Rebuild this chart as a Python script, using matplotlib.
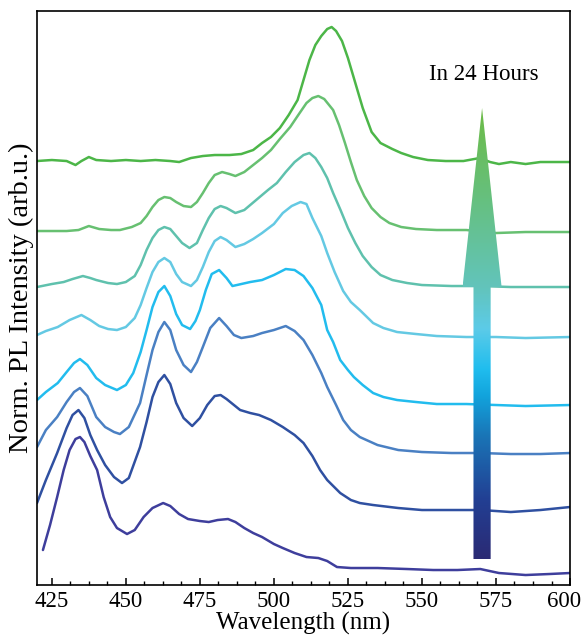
# PL spectra stacked over 24 hours, with gradient "time" arrow
import matplotlib.pyplot as plt
import numpy as np
from matplotlib.colors import LinearSegmentedColormap
from matplotlib.patches import Polygon
from matplotlib.ticker import MultipleLocator, AutoMinorLocator, FuncFormatter

plt.rcParams['font.family'] = ['Liberation Serif', 'DejaVu Serif']

# ---- data (offset, normalised PL intensity) ----
wl_0 = [422, 424.4, 426.8, 429, 431, 433, 434.5, 436, 438, 440.3, 442.5, 444.7, 447, 450.4,
        453, 456, 459, 462.6, 465, 468, 471, 475, 478, 481, 484.5, 487, 490, 493, 496, 500,
        503, 507, 511, 515, 518, 521.3, 526, 535, 545, 553.8, 562, 569.7, 576, 585, 593, 600]
pl_0 = [0.35, 0.60, 0.88, 1.15, 1.35, 1.46, 1.48, 1.43, 1.29, 1.15, 0.88, 0.68, 0.57, 0.51,
        0.55, 0.68, 0.77, 0.82, 0.79, 0.71, 0.66, 0.64, 0.63, 0.65, 0.66, 0.63, 0.57, 0.52, 0.48, 0.41,
        0.37, 0.32, 0.28, 0.27, 0.24, 0.18, 0.17, 0.17, 0.16, 0.15, 0.15, 0.16, 0.12, 0.10, 0.11, 0.12]

wl_1 = [420, 423, 426.8, 430, 432, 434, 436, 438, 440.3, 443, 446, 448.7, 451, 454.8, 457, 459,
        461, 463, 465, 467, 469.5, 472.4, 475, 477.5, 480, 482, 484, 488.6, 492, 495, 499, 503,
        507, 510, 513, 515.6, 518, 522.4, 526, 529, 533.5, 542, 550, 560, 570, 580, 590, 600]
pl_1 = [0.82, 1.05, 1.32, 1.57, 1.70, 1.75, 1.67, 1.50, 1.35, 1.20, 1.08, 1.02, 1.07, 1.38, 1.63, 1.88,
        2.03, 2.10, 2.01, 1.82, 1.67, 1.59, 1.67, 1.80, 1.89, 1.90, 1.86, 1.75, 1.72, 1.70, 1.65, 1.58,
        1.50, 1.42, 1.29, 1.15, 1.05, 0.92, 0.85, 0.82, 0.80, 0.77, 0.75, 0.75, 0.75, 0.73, 0.75, 0.78]

wl_2 = [420, 423, 426.8, 430, 432.5, 434.5, 437, 440, 443, 446, 448, 451, 454.8, 457, 459, 461,
        463, 465, 467, 469.5, 472, 474, 476, 478.5, 481.5, 484, 486.5, 489, 493, 496, 500, 504,
        507, 510, 513, 516, 518, 521, 523.4, 526, 529, 535, 542, 550, 560, 570, 580, 590, 600]
pl_2 = [1.38, 1.55, 1.68, 1.83, 1.93, 1.97, 1.89, 1.68, 1.58, 1.53, 1.51, 1.58, 1.82, 2.10, 2.35, 2.53,
        2.63, 2.55, 2.35, 2.20, 2.13, 2.23, 2.38, 2.57, 2.67, 2.59, 2.50, 2.47, 2.49, 2.52, 2.55, 2.59,
        2.54, 2.45, 2.30, 2.12, 1.98, 1.80, 1.65, 1.55, 1.48, 1.40, 1.35, 1.33, 1.32, 1.32, 1.31, 1.31, 1.32]

wl_3 = [420, 423, 427, 430, 432.5, 434.5, 437, 440, 443, 447, 450, 452.5, 455, 457, 459, 461,
        463, 465, 467, 469, 471.7, 473.5, 475, 477, 479, 481.5, 484, 486, 489, 492, 496, 500,
        504, 507, 510, 513, 516, 518, 520, 522.4, 525, 527, 530, 533.5, 537, 541.6, 548, 555,
        565, 575, 585, 600]
pl_3 = [1.85, 1.93, 2.02, 2.13, 2.22, 2.26, 2.20, 2.07, 2.00, 1.95, 2.00, 2.12, 2.33, 2.55, 2.78, 2.93,
        2.99, 2.89, 2.71, 2.60, 2.56, 2.64, 2.75, 2.95, 3.11, 3.15, 3.07, 2.99, 3.01, 3.03, 3.05, 3.10,
        3.16, 3.15, 3.09, 2.97, 2.80, 2.55, 2.43, 2.25, 2.15, 2.08, 2.00, 1.92, 1.88, 1.85, 1.83, 1.81,
        1.81, 1.80, 1.79, 1.80]

wl_4 = [420, 423, 427, 431, 435, 438, 441, 444, 447, 450, 453, 455, 457, 459, 461, 463, 465, 467,
        469, 472, 474, 476, 478, 480, 482, 484, 487, 490, 493, 496, 500, 503, 506, 509, 511, 513,
        516, 518, 520.5, 523.4, 526, 529, 533.5, 537, 541.6, 548, 555, 565, 575, 585, 600]
pl_4 = [2.50, 2.54, 2.58, 2.65, 2.70, 2.65, 2.59, 2.56, 2.55, 2.58, 2.67, 2.80, 2.97, 3.13, 3.23, 3.27,
        3.23, 3.11, 3.03, 2.99, 3.05, 3.18, 3.33, 3.44, 3.48, 3.45, 3.38, 3.41, 3.46, 3.52, 3.61, 3.72,
        3.79, 3.83, 3.81, 3.67, 3.49, 3.32, 3.13, 2.94, 2.83, 2.75, 2.62, 2.57, 2.53, 2.51, 2.49, 2.48,
        2.48, 2.47, 2.48]

wl_5 = [420, 425, 429, 432, 435.5, 438, 440, 444, 447, 450, 453, 455, 457, 459, 461, 463, 465,
        467, 469, 471.5, 474, 476, 478, 480, 482, 484, 487, 490, 494, 498, 501, 504, 507, 510,
        512, 514, 516, 518, 520, 522.5, 525, 527.5, 530, 533, 536, 540, 545, 550, 560, 570,
        580, 590, 600]
pl_5 = [2.98, 3.01, 3.03, 3.06, 3.09, 3.07, 3.05, 3.02, 3.01, 3.03, 3.09, 3.20, 3.35, 3.47, 3.55, 3.58,
        3.56, 3.49, 3.42, 3.37, 3.42, 3.55, 3.67, 3.76, 3.79, 3.77, 3.72, 3.75, 3.85, 3.95, 4.02, 4.13,
        4.23, 4.30, 4.32, 4.27, 4.18, 4.07, 3.92, 3.75, 3.57, 3.42, 3.29, 3.18, 3.10, 3.05, 3.02, 3.00,
        2.99, 2.99, 2.98, 2.98, 2.98]

wl_6 = [420, 425, 430, 434, 437.5, 441, 445, 448, 452, 455, 457, 459, 461, 463, 465, 467, 469.5,
        472, 474, 476, 478, 480, 482.5, 485, 487, 490, 493, 496, 499, 502, 505.5, 508, 511, 513,
        515, 517, 520, 522, 524, 526, 528, 530.5, 533, 536, 539, 543, 548, 555, 565, 575, 585, 600]
pl_6 = [3.54, 3.54, 3.54, 3.55, 3.59, 3.56, 3.55, 3.55, 3.58, 3.62, 3.69, 3.78, 3.85, 3.88, 3.87, 3.83,
        3.79, 3.78, 3.83, 3.92, 4.02, 4.10, 4.13, 4.11, 4.09, 4.13, 4.20, 4.27, 4.35, 4.46, 4.58, 4.69,
        4.82, 4.87, 4.89, 4.86, 4.75, 4.60, 4.42, 4.23, 4.05, 3.89, 3.77, 3.68, 3.62, 3.58, 3.56, 3.55,
        3.55, 3.52, 3.53, 3.53]

wl_7 = [420, 425, 430, 433, 435, 437.5, 440, 445, 450, 455, 460, 465, 468, 472, 476, 480, 485,
        489, 493, 496, 499, 502, 505, 508, 510, 512, 514, 516, 518, 519.5, 521, 523, 525, 527,
        530, 533, 536, 540, 543, 547, 552, 558, 564, 569.5, 573, 576, 580, 585, 590, 595, 600]
pl_7 = [4.24, 4.25, 4.24, 4.20, 4.24, 4.28, 4.25, 4.24, 4.25, 4.24, 4.25, 4.24, 4.23, 4.27, 4.29, 4.30,
        4.30, 4.31, 4.35, 4.42, 4.48, 4.57, 4.70, 4.85, 5.05, 5.25, 5.40, 5.49, 5.56, 5.58, 5.54, 5.44,
        5.27, 5.07, 4.77, 4.53, 4.42, 4.36, 4.32, 4.28, 4.25, 4.24, 4.24, 4.27, 4.23, 4.21, 4.23, 4.21,
        4.23, 4.23, 4.23]

wavelengths = [wl_0, wl_1, wl_2, wl_3, wl_4, wl_5, wl_6, wl_7]
spectra = [pl_0, pl_1, pl_2, pl_3, pl_4, pl_5, pl_6, pl_7]
line_colors = ['#3e3e9c', '#2f50a1', '#4a80c3', '#22bcee',
               '#64c9e3', '#5fc1ad', '#67c071', '#4cb648']

# arrow gradient stops (fraction from bottom, colour)
arrow_stops = [(0.00, '#2b2a74'), (0.13, '#223f93'), (0.27, '#1a74b6'), (0.36, '#12a3dc'),
               (0.42, '#20bdee'), (0.51, '#5ccbe8'), (0.60, '#62c4bc'), (0.80, '#66c07e'),
               (1.00, '#6cbb45')]

X_MIN, X_MAX = 420, 600

fig = plt.figure(figsize=(5.82, 6.37), dpi=100)
ax = fig.add_axes([0.0636, 0.0816, 0.9158, 0.9011])

for wl, pl, c in zip(wavelengths, spectra, line_colors):
  ax.plot(wl, pl, color=c, lw=1.8, solid_joinstyle='round', solid_capstyle='round')

ax.set_xlim(X_MIN, X_MAX)
ax.set_ylim(0, 5.74)

# gradient arrow, clipped to an arrow-shaped polygon
ax_x = 570.3       # centre (nm)
shaft_hw = 2.9     # half width of shaft (nm)
head_hw = 6.6      # half width of head (nm)
y_bot, y_head, y_tip = 0.26, 2.98, 4.77
verts = [(ax_x - shaft_hw, y_bot), (ax_x + shaft_hw, y_bot), (ax_x + shaft_hw, y_head),
         (ax_x + head_hw, y_head), (ax_x, y_tip), (ax_x - head_hw, y_head),
         (ax_x - shaft_hw, y_head)]
arrow = Polygon(verts, closed=True, facecolor='none', edgecolor='none')
ax.add_patch(arrow)
cmap = LinearSegmentedColormap.from_list('time', arrow_stops)
grad = np.linspace(0, 1, 256).reshape(-1, 1)
img = ax.imshow(grad, cmap=cmap, origin='lower', aspect='auto', interpolation='bilinear',
                extent=[ax_x - head_hw, ax_x + head_hw, y_bot, y_tip], zorder=3)
img.set_clip_path(arrow)
ax.text(571, 5.11, 'In 24 Hours', ha='center', va='center', fontsize=16.5)

# axes styling
ax.xaxis.set_major_locator(MultipleLocator(25))
ax.xaxis.set_minor_locator(AutoMinorLocator(4))
# last label ("600") is drawn separately, nudged left so it stays on the canvas
ax.xaxis.set_major_formatter(FuncFormatter(lambda v, p: '' if v >= X_MAX else f'{v:.0f}'))
ax.annotate(f'{X_MAX}', xy=(X_MAX, 0), xycoords=('data', 'axes fraction'),
            xytext=(-4.3, -4), textcoords='offset points', ha='center', va='top', fontsize=16.5)
ax.set_yticks([])
ax.tick_params(axis='x', which='major', direction='in', length=5, width=1.1, labelsize=16.5, pad=4)
ax.tick_params(axis='x', which='minor', direction='in', length=3, width=1.0)
for s in ax.spines.values():
  s.set_linewidth(1.2)

ax.set_xlabel('Wavelength (nm)', fontsize=18, labelpad=0)
ax.set_ylabel('Norm. PL Intensity (arb.u.)', fontsize=20.5, labelpad=2)

fig.savefig('out.png', dpi=100)
